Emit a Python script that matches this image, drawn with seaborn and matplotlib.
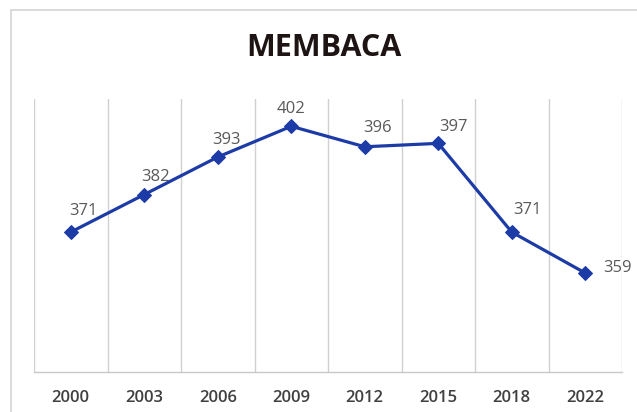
"""
Grafik skor membaca per tahun
"""

import numpy as np
import pandas as pd
import matplotlib.pyplot as plt
import seaborn as sns
from matplotlib.lines import Line2D

tahun = ['2000', '2003', '2006', '2009', '2012', '2015', '2018', '2022']
skor = [371, 382, 393, 402, 396, 397, 371, 359]

# posisi label data relatif terhadap titik (px)
label_offset = [(13, 21), (11, 18), (9, 17), (0, 17), (13, 19), (15, 16), (16, 22), (32, 5)]

sns.set_theme(style='white')
plt.rcParams['font.family'] = ['Open Sans', 'DejaVu Sans']

df = pd.DataFrame({'tahun': tahun, 'skor': skor})

fig = plt.figure(figsize=(6.37, 4.12), dpi=100)
ax = fig.add_axes([34 / 637, 1 - 372 / 412, 588 / 637, 273 / 412])

sns.lineplot(data=df, x='tahun', y='skor', ax=ax, color='#1c3ba6', linewidth=2.3,
             marker='D', markersize=7.5, markeredgecolor='#1c3ba6', sort=False)

for i, v in enumerate(skor):
    dx, dy = label_offset[i]
    ax.annotate(str(v), (i, v), xytext=(dx * 0.72, dy * 0.72), textcoords='offset points',
                ha='center', va='center', fontsize=12, color='#595959')

ax.set_xlim(-0.5, len(tahun) - 0.5)
ax.set_ylim(330, 410)
ax.set_yticks([])
ax.set_xticks(range(len(tahun)))
ax.set_xticklabels(tahun, fontsize=12, color='#404040', fontweight='semibold')
ax.set_xticks(np.arange(-0.5, len(tahun)), minor=True)
ax.grid(True, which='minor', axis='x', color='#d0d0d0', linewidth=1)
ax.tick_params(axis='x', which='both', length=0, pad=13)
ax.set_xlabel('')
ax.set_ylabel('')
for s in ['top', 'left', 'right']:
    ax.spines[s].set_visible(False)
ax.spines['bottom'].set_color('#c8c8c8')
ax.spines['bottom'].set_linewidth(1)

fig.text(0.508, 1 - 48 / 412, 'MEMBACA', ha='center', va='center', fontsize=22,
         fontweight='bold', color='#1e1414')

# bingkai area grafik
fig.add_artist(Line2D([11 / 637, 11 / 637], [0, 1 - 10 / 412], color='#d4d4d4', linewidth=1.2))
fig.add_artist(Line2D([11 / 637, 1], [1 - 10 / 412, 1 - 10 / 412], color='#d4d4d4', linewidth=1.2))

plt.savefig('out.png', dpi=100)
plt.close()
